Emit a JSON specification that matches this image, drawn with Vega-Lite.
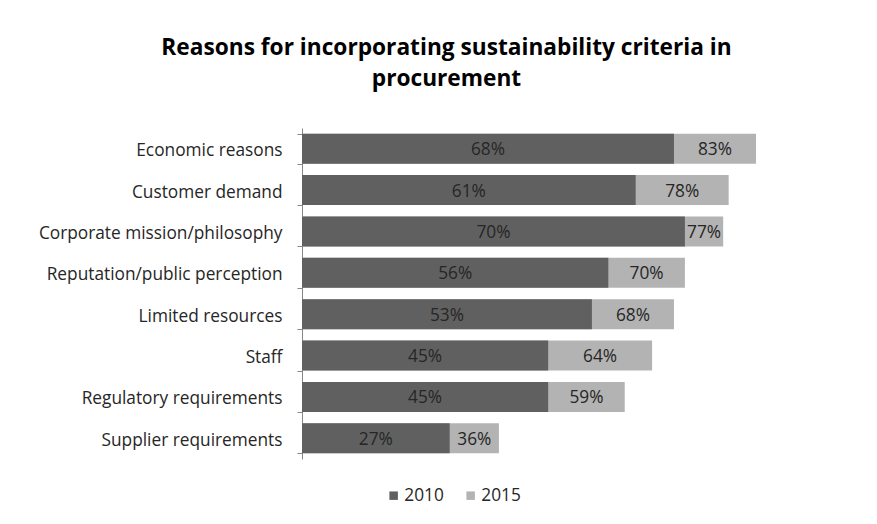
{
  "$schema": "https://vega.github.io/schema/vega-lite/v6.json",
  "autosize": {"type": "none"},
  "width": 547,
  "height": 331,
  "padding": {"left": 302, "top": 128, "right": 28, "bottom": 65},
  "background": "white",
  "config": {"view": {"stroke": null}, "font": "Open Sans"},
  "title": {
    "text": ["Reasons for incorporating sustainability criteria in", "procurement"],
    "fontSize": 22.7,
    "fontWeight": "bold",
    "color": "#000000",
    "anchor": "middle",
    "frame": "group",
    "dx": -129,
    "offset": 28,
    "lineHeight": 31
  },
  "data": {
    "values": [
      {"category": "Economic reasons", "v2010": 0.68, "v2015": 0.83},
      {"category": "Customer demand", "v2010": 0.61, "v2015": 0.78},
      {"category": "Corporate mission/philosophy", "v2010": 0.70, "v2015": 0.77},
      {"category": "Reputation/public perception", "v2010": 0.56, "v2015": 0.70},
      {"category": "Limited resources", "v2010": 0.53, "v2015": 0.68},
      {"category": "Staff", "v2010": 0.45, "v2015": 0.64},
      {"category": "Regulatory requirements", "v2010": 0.45, "v2015": 0.59},
      {"category": "Supplier requirements", "v2010": 0.27, "v2015": 0.36}
    ]
  },
  "transform": [
    {"calculate": "datum.v2010 / 2", "as": "m2010"},
    {"calculate": "(datum.v2010 + datum.v2015) / 2", "as": "m2015"}
  ],
  "encoding": {
    "y": {
      "field": "category",
      "type": "nominal",
      "sort": null,
      "scale": {"paddingInner": 0.275, "paddingOuter": 0.1375},
      "axis": {
        "title": null,
        "labelFontSize": 17.3,
        "labelColor": "#262626",
        "labelPadding": 15,
        "labelOffset": 2,
        "tickSize": 5,
        "tickBand": "extent",
        "tickColor": "#868686",
        "domainColor": "#868686",
        "labelLimit": 400
      }
    }
  },
  "layer": [
    {
      "mark": {"type": "bar"},
      "encoding": {
        "x": {"field": "v2015", "type": "quantitative", "scale": {"domain": [0, 1], "nice": false}, "axis": null},
        "color": {
          "datum": "2015",
          "scale": {"domain": ["2010", "2015"], "range": ["#606060", "#b3b3b3"]},
          "legend": {
            "title": null,
            "orient": "none",
            "legendX": 83,
            "legendY": 359,
            "direction": "horizontal",
            "symbolType": "square",
            "symbolSize": 72,
            "symbolStrokeWidth": 0,
            "labelFontSize": 17.3,
            "labelColor": "#262626",
            "labelOffset": 2,
            "columnPadding": 18
          }
        }
      }
    },
    {
      "mark": {"type": "bar"},
      "encoding": {
        "x": {"field": "v2010", "type": "quantitative"},
        "color": {"datum": "2010"}
      }
    },
    {
      "mark": {"type": "text", "fontSize": 17.3, "color": "#262626", "baseline": "middle", "dy": 1.5},
      "encoding": {
        "x": {"field": "m2010", "type": "quantitative"},
        "text": {"field": "v2010", "type": "quantitative", "format": ".0%"}
      }
    },
    {
      "mark": {"type": "text", "fontSize": 17.3, "color": "#262626", "baseline": "middle", "dy": 1.5},
      "encoding": {
        "x": {"field": "m2015", "type": "quantitative"},
        "text": {"field": "v2015", "type": "quantitative", "format": ".0%"}
      }
    }
  ]
}
